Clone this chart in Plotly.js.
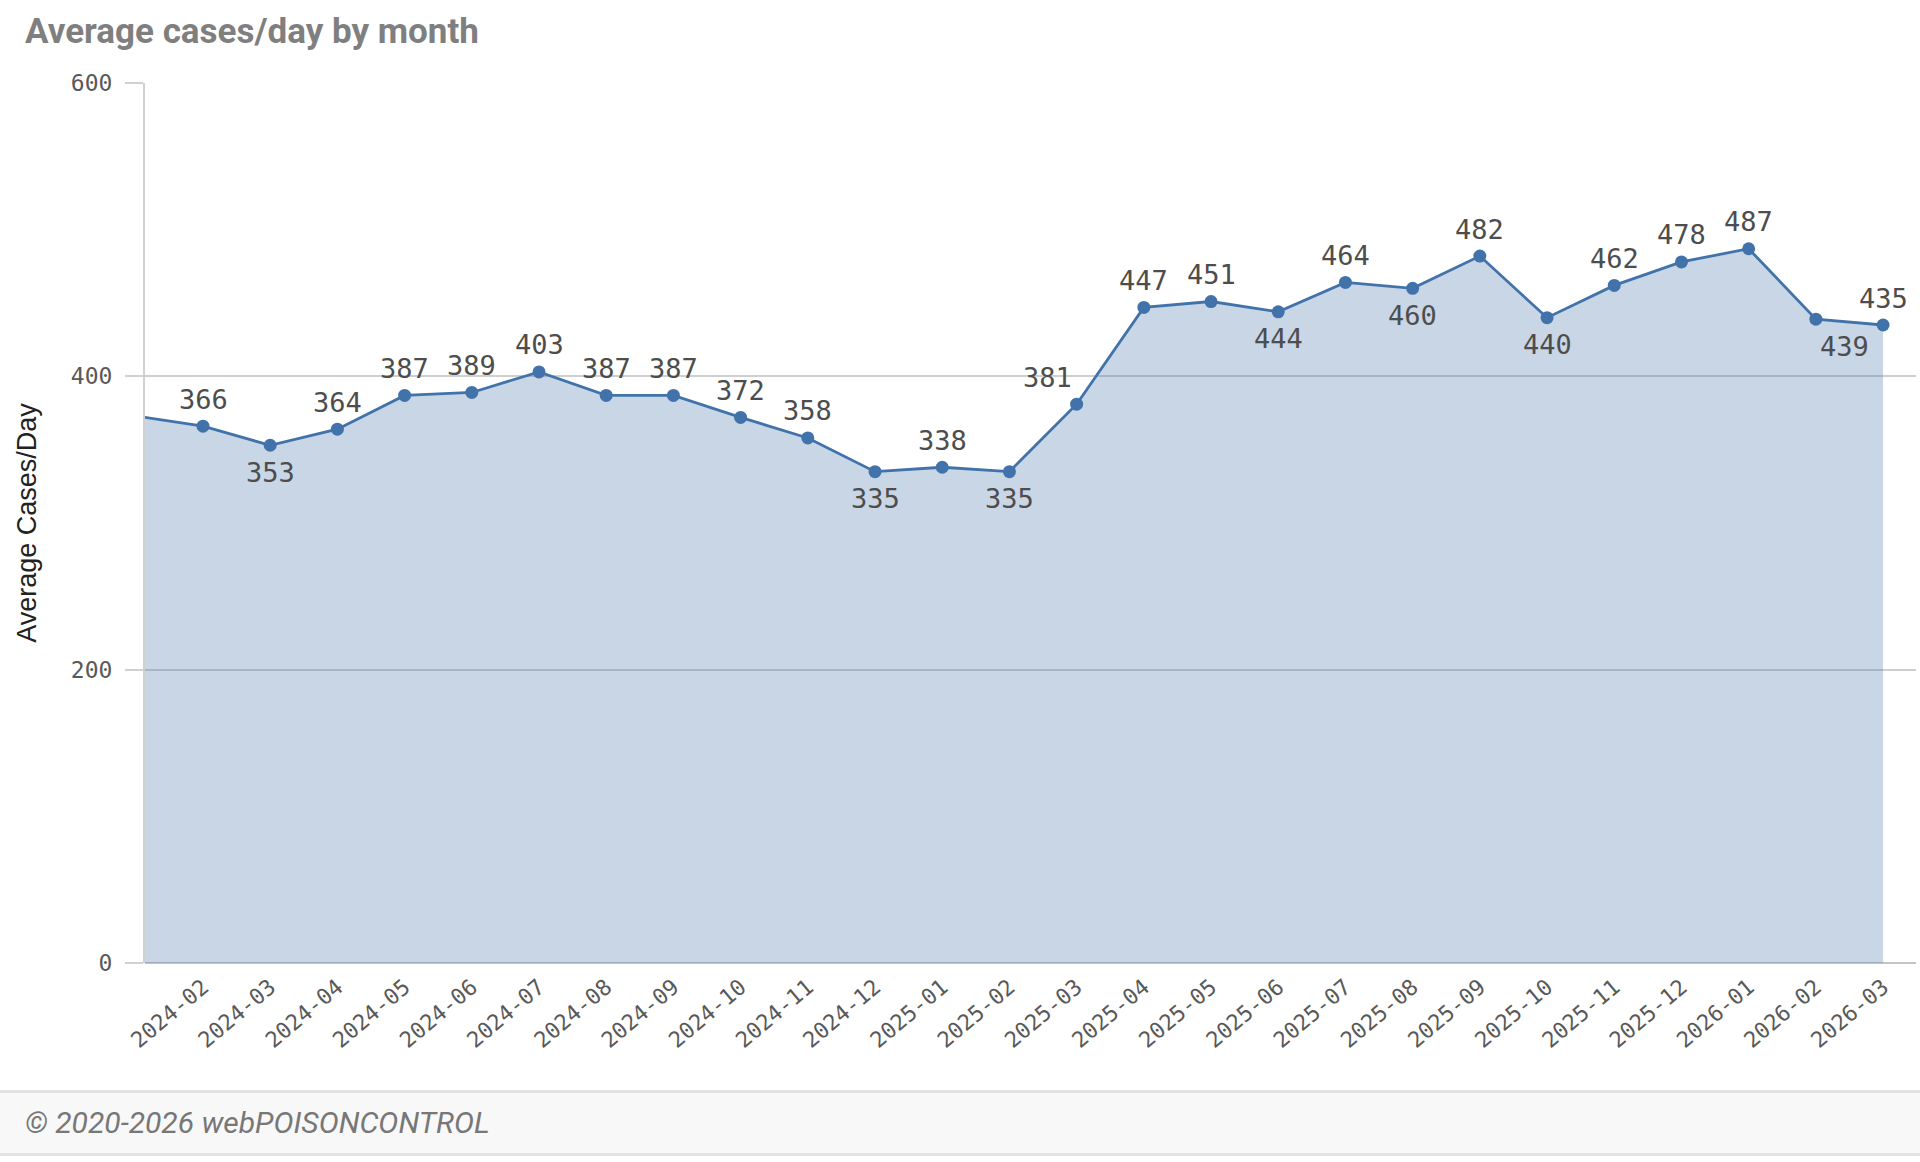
<!DOCTYPE html>
<html>
<head>
<meta charset="utf-8">
<script src="https://cdn.plot.ly/plotly-3.0.1.min.js"></script>
<style>
  html, body { margin: 0; padding: 0; background: #fff; width: 1920px; height: 1162px; overflow: hidden; }
  #chart { width: 1920px; height: 1090px; }
  #footer {
    width: 1920px; height: 66px; box-sizing: border-box;
    border-top: 3px solid #e2e2e2; border-bottom: 3px solid #e2e2e2;
    background: #f8f8f8; color: #777; font-family: Roboto, sans-serif;
    font-style: italic; font-size: 30px; line-height: 60px; padding-left: 25px;
  }
</style>
</head>
<body>
<div id="chart"></div>
<div id="footer">© 2020-2026 webPOISONCONTROL</div>
<script>
// months shown (first one sits just off the left edge, as in the scrolled view)
const months = ['2024-01','2024-02','2024-03','2024-04','2024-05','2024-06','2024-07','2024-08','2024-09','2024-10','2024-11','2024-12',
  '2025-01','2025-02','2025-03','2025-04','2025-05','2025-06','2025-07','2025-08','2025-09','2025-10','2025-11','2025-12',
  '2026-01','2026-02','2026-03'];
const avgCases = [373,366,353,364,387,389,403,387,387,372,358,335,
  338,335,381,447,451,444,464,460,482,440,462,478,
  487,439,435];
const yTicks = [0, 200, 400, 600];

// label placement (below the point / shifted sideways)
const labelsBelow = ['2024-03','2024-12','2025-02','2025-06','2025-08','2025-10','2026-02'];
const labelShiftX = { '2025-03': -29, '2026-02': 29 };
const LINE = '#4173aa';

const annotations = [];
months.forEach((m, i) => {
  if (i === 0) return; // off-screen point, no label
  const below = labelsBelow.includes(m);
  annotations.push({
    x: m, y: avgCases[i], xref: 'x', yref: 'y',
    text: String(avgCases[i]), showarrow: false,
    xanchor: 'center', yanchor: 'middle',
    yshift: below ? -27 : 27, xshift: labelShiftX[m] || 0,
    font: { family: 'DejaVu Sans Mono, monospace', size: 27, color: '#4d4d4d' }
  });
});

Plotly.newPlot('chart', [{
  x: months,
  y: avgCases,
  type: 'scatter',
  mode: 'lines+markers',
  fill: 'tozeroy',
  fillcolor: 'rgba(65,115,170,0.29)',
  line: { color: LINE, width: 2.8 },
  marker: { color: LINE, size: 13 },
  hoverinfo: 'x+y',
  cliponaxis: true
}], {
  title: {
    text: '<b>Average cases/day by month</b>',
    font: { family: 'Roboto, sans-serif', size: 35, color: '#7f7f7f' },
    xref: 'container', yref: 'container',
    x: 25 / 1920, xanchor: 'left',
    y: 1 - 31 / 1090, yanchor: 'middle'
  },
  xaxis: {
    type: 'category',
    range: [0.137, 26.49],
    showgrid: false, zeroline: false, showline: false,
    ticks: '',
    tickangle: -40,
    ticklabelstandoff: 6,
    tickfont: { family: 'DejaVu Sans Mono, monospace', size: 22, color: '#595959' },
    fixedrange: true
  },
  yaxis: {
    range: [0, 600],
    tickvals: yTicks,
    ticktext: yTicks.map(String),
    showgrid: true, gridcolor: '#cfcfcf', gridwidth: 2,
    zeroline: true, zerolinecolor: '#c4c4c4', zerolinewidth: 2,
    showline: true, linecolor: '#d0d0d0', linewidth: 2,
    ticks: 'outside', ticklen: 18, tickwidth: 2, tickcolor: '#d0d0d0',
    ticklabelstandoff: 8,
    tickfont: { family: 'DejaVu Sans Mono, monospace', size: 23, color: '#595959' },
    title: {
      text: 'Average Cases/Day',
      font: { family: 'Liberation Sans, Arial, sans-serif', size: 27, color: '#222' },
      standoff: 26
    },
    fixedrange: true
  },
  annotations: annotations,
  showlegend: false,
  plot_bgcolor: '#fff',
  paper_bgcolor: '#fff',
  margin: { l: 145, r: 4, t: 83, b: 127 }
}, { displayModeBar: false, responsive: false });
</script>
</body>
</html>
